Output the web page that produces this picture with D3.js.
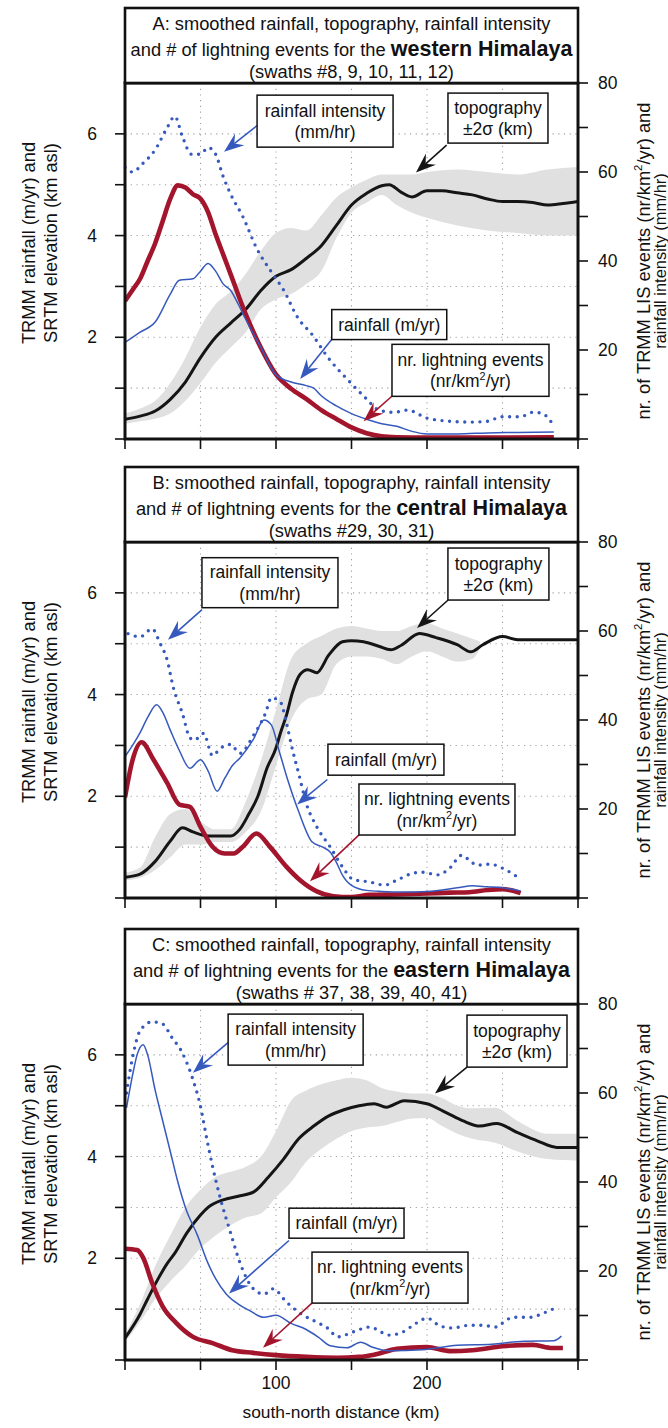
<!DOCTYPE html>
<html><head><meta charset="utf-8">
<script src="https://cdn.jsdelivr.net/npm/d3@7"></script>
<style>
body{margin:0;background:#fff}
svg{display:block}
text{font-family:"Liberation Sans",Arial,Helvetica,sans-serif;fill:#111}
</style>
</head><body><svg id="c" width="668" height="1428"></svg>
<script>
// ---------------- data ----------------
const panelLetters = ["A", "B", "C"];
const regionNames = ["western Himalaya", "central Himalaya", "eastern Himalaya"];
const swathLabels = ["(swaths #8, 9, 10, 11, 12)", "(swaths #29, 30, 31)", "(swaths # 37, 38, 39, 40, 41)"];

const leftTicks = [0, 1, 2, 3, 4, 5, 6];
const leftTickLabels = [2, 4, 6];
const rightTicks = [0, 10, 20, 30, 40, 50, 60, 70, 80];
const rightTickLabels = [20, 40, 60, 80];
const xTicks = [0, 50, 100, 150, 200, 250, 300];
const xTickLabels = [100, 200];
const gridX = [50, 100, 150, 200, 250];
const gridY = [1, 2, 3, 4, 5, 6];

// [distance km, elevation km]
const A_topo = [[0,0.39],[10,0.45],[20,0.55],[30,0.78],[40,1.12],[50,1.6],[60,2.0],[70,2.28],[80,2.55],[90,2.92],[100,3.2],[110,3.33],[120,3.55],[130,3.8],[140,4.2],[150,4.6],[160,4.83],[170,4.98],[175,5.0],[183,4.85],[190,4.76],[200,4.88],[210,4.88],[220,4.84],[230,4.8],[240,4.72],[250,4.67],[260,4.67],[270,4.65],[280,4.6],[290,4.63],[300,4.67]];
// [distance, low, high] (±2 sigma)
const A_band = [[0,0.3,0.5],[10,0.35,0.6],[20,0.4,0.75],[30,0.5,1.1],[40,0.75,1.6],[50,1.1,2.2],[60,1.5,2.65],[70,1.8,2.9],[80,2.1,3.25],[90,2.55,3.7],[100,2.75,4.05],[110,2.85,4.15],[120,3.05,4.1],[130,3.3,4.4],[140,3.95,4.75],[150,4.45,4.95],[160,4.65,5.1],[170,4.8,5.2],[180,4.6,5.2],[190,4.45,5.2],[200,4.35,5.25],[220,4.2,5.3],[240,4.1,5.25],[260,4.05,5.2],[280,4.0,5.3],[300,4.0,5.35]];
// rainfall m/yr
const A_rain = [[0,1.9],[10,2.1],[20,2.3],[30,2.85],[36,3.12],[45,3.15],[50,3.3],[55,3.45],[60,3.3],[65,3.05],[70,2.92],[75,2.65],[80,2.35],[90,1.8],[100,1.26],[110,1.12],[120,1.05],[125,1.0],[130,0.85],[140,0.65],[150,0.5],[160,0.39],[170,0.3],[180,0.25],[190,0.15],[200,0.1],[220,0.1],[240,0.12],[260,0.13],[284,0.14]];
// rainfall intensity mm/hr (right axis)
const A_intensity = [[0,61],[5,60],[12,62],[20,65],[28,70],[33,72.5],[38,68],[44,64],[50,64],[55,65.5],[60,64],[65,59],[70,55],[78,50],[87,43],[98,37],[105,33.5],[114,27.5],[125,23],[134,18.5],[147,13.5],[160,9],[168,6.5],[178,6],[187,6.5],[200,4.7],[215,4],[230,3.8],[240,4],[250,5],[262,5],[270,6],[276,5.8],[283,3.5]];
// lightning events nr/km2/yr (right axis)
const A_lightning = [[0,31],[5,33.5],[10,36],[15,40],[20,44],[25,49],[30,54],[35,57],[40,56.5],[45,55],[50,54],[55,51],[60,46],[65,41.5],[70,37],[80,28],[90,20.5],[100,14.5],[110,11.3],[120,9],[130,6.5],[140,4.5],[150,2.6],[160,1.3],[170,0.6],[180,0.4],[200,0.3],[240,0.3],[284,0.4]];

const B_topo = [[0,0.41],[10,0.47],[20,0.72],[30,1.12],[38,1.38],[45,1.3],[55,1.22],[70,1.22],[76,1.35],[82,1.65],[88,2.0],[94,2.55],[100,2.95],[103,3.25],[107,3.6],[111,4.05],[116,4.4],[121,4.49],[127,4.43],[135,4.78],[144,5.04],[150,5.06],[158,5.04],[168,4.95],[176,4.88],[183,4.97],[195,5.2],[206,5.12],[220,4.98],[229,4.84],[237,4.98],[250,5.14],[260,5.08],[300,5.08]];
const B_band = [[0,0.35,0.5],[10,0.4,0.6],[20,0.55,1.2],[30,0.8,1.65],[40,1.05,1.75],[50,1.05,1.5],[60,1.1,1.35],[70,1.1,1.35],[80,1.3,1.9],[90,1.7,2.7],[100,2.6,3.7],[110,3.5,4.7],[120,3.9,5.0],[130,4.0,5.15],[140,4.6,5.3],[150,4.75,5.35],[160,4.75,5.3],[170,4.7,5.25],[180,4.6,5.25],[190,4.75,5.35],[200,4.85,5.4],[210,4.75,5.3],[220,4.65,5.2],[230,4.7,5.1],[235,4.9,5.05]];
const B_rain = [[0,2.78],[5,3.0],[10,3.25],[15,3.55],[21,3.8],[25,3.65],[30,3.3],[36,2.9],[43,2.55],[50,2.72],[55,2.5],[61,2.1],[66,2.35],[71,2.6],[76,2.75],[85,3.12],[92,3.5],[97,3.4],[102,2.9],[108,2.3],[115,1.7],[124,1.1],[131,1.0],[136,0.9],[140,0.7],[144,0.45],[150,0.25],[160,0.15],[170,0.13],[185,0.12],[200,0.13],[220,0.2],[230,0.24],[240,0.22],[250,0.2],[262,0.14]];
const B_intensity = [[2,59.4],[10,58.7],[18,60.5],[23,57.4],[28,53.4],[32,47.3],[38,41.5],[43,36],[46,35.5],[52,37],[58,32],[63,33.6],[70,34.5],[76,32.5],[85,36.5],[93,41.5],[97,45],[103,44],[107,39.2],[111,33.2],[115,28],[120,21.3],[127,16],[136,11.4],[144,7],[151,4.2],[162,3.6],[172,2.9],[180,4],[191,5.6],[197,5.8],[207,5.2],[215,6.7],[223,9.6],[228,8.5],[233,7.4],[242,7.6],[250,6.7],[260,4.7]];
const B_lightning = [[0,22.6],[5,31],[11,35],[19,31],[28,25.8],[36,21],[43,20.5],[50,16],[58,11.5],[66,10],[72,10],[78,11.5],[87,14.5],[96,11.5],[107,7],[116,4],[127,1.5],[138,0.4],[150,0.2],[162,0.7],[180,0.8],[200,1.0],[215,1.2],[228,1.3],[240,1.8],[250,2.0],[262,1.1]];

const C_topo = [[0,0.43],[10,0.9],[15,1.2],[22,1.6],[28,1.9],[33,2.1],[41,2.5],[50,2.85],[55,3.0],[65,3.15],[75,3.22],[85,3.3],[95,3.6],[105,3.95],[115,4.35],[125,4.6],[135,4.8],[145,4.92],[155,5.0],[165,5.04],[173,4.97],[185,5.1],[200,5.04],[213,4.86],[224,4.7],[235,4.6],[246,4.65],[260,4.47],[273,4.31],[286,4.18],[300,4.18]];
const C_band = [[0,0.35,0.5],[10,0.75,1.1],[20,1.2,1.85],[30,1.55,2.45],[40,1.85,3.0],[50,2.2,3.35],[60,2.45,3.6],[70,2.65,3.7],[80,2.8,3.8],[90,2.88,4.0],[100,3.2,4.5],[110,3.5,5.1],[120,3.9,5.3],[130,4.15,5.42],[140,4.35,5.5],[150,4.5,5.55],[160,4.57,5.5],[170,4.6,5.35],[180,4.68,5.28],[190,4.75,5.24],[200,4.76,5.24],[210,4.6,5.15],[220,4.45,5.0],[230,4.35,4.95],[245,4.27,4.96],[260,4.1,4.7],[280,3.95,4.45],[300,3.92,4.45]];
const C_rain = [[1,4.96],[5,5.6],[8,6.0],[12,6.2],[15,6.0],[20,5.3],[25,4.7],[30,4.1],[35,3.5],[40,3.0],[48,2.45],[55,1.9],[60,1.6],[67,1.3],[75,1.1],[82,0.98],[92,0.84],[100,0.88],[110,0.72],[120,0.6],[128,0.45],[136,0.28],[147,0.24],[156,0.35],[164,0.25],[175,0.18],[197,0.2],[220,0.29],[243,0.31],[264,0.37],[284,0.38],[289,0.47]];
const C_intensity = [[1,60],[5,68],[10,74],[18,76],[25,75.5],[31,72.5],[38,69],[45,63],[50,57],[54,50],[58,43.5],[63,36.5],[70,28.5],[76,22],[85,16],[92,14.8],[98,16],[107,13],[116,10.5],[127,8.5],[134,7.2],[141,5.2],[151,6.3],[162,7.4],[175,5.6],[184,6.3],[193,8.3],[200,9.4],[209,7.6],[217,7.2],[228,7.8],[237,7.8],[246,7.4],[250,8.3],[257,9.6],[268,9.6],[279,10.8],[285,11.7]];
const C_lightning = [[0,25],[8,24.7],[12,23],[18,17.3],[25,12],[34,8.3],[45,5.2],[58,3.8],[71,2.2],[85,1.6],[100,1.1],[120,0.7],[140,0.5],[155,0.7],[165,1.2],[180,2.5],[200,2.9],[215,2],[230,2.2],[250,3.1],[270,3.4],[283,2.7],[290,2.7]];

// annotation labels
const labelIntensity = ["rainfall intensity", "(mm/hr)"];
const labelTopo = ["topography", "\u00b12\u03c3 (km)"];
const labelRain = ["rainfall (m/yr)"];
const labelLightning = ["nr. lightning events", "(nr/km\u00b2/yr)"];

// ---------------- layout / style ----------------
const COL = {red: "#a3152c", blue: "#3659bd", black: "#151515", band: "#e0e0e0", grid: "#a0a0a0"};
const L = 125, R = 578;
const panelTop = [8, 467, 929];
const titleH = 75, plotH = 356;
const FS = {title: 18.3, titleBold: 21.5, axisTitle: 18.3, tick: 17.5, note: 17.5};

// annotation boxes: centre and arrow ends in data units (km, left-axis km)
const notes = [
  [
    {t: labelIntensity, c: [132.5, 6.25], w: 136, h: 52, from: [87.4, 6.16], to: [65.6, 5.65], col: COL.blue},
    {t: labelTopo, c: [247, 6.31], w: 100, h: 50, from: [213, 5.78], to: [192.7, 5.24], col: COL.black},
    {t: labelRain, c: [175, 2.25], w: 115, h: 30, from: [137, 1.96], to: [116, 1.18], col: COL.blue},
    {t: labelLightning, c: [228.8, 1.35], w: 157, h: 52, from: [177.5, 0.86], to: [158, 0.35], col: COL.red}
  ],
  [
    {t: labelIntensity, c: [96, 6.2], w: 136, h: 50, from: [51, 5.67], to: [28.5, 5.08], col: COL.blue},
    {t: labelTopo, c: [247.3, 6.37], w: 101, h: 52, from: [214, 5.86], to: [193.4, 5.31], col: COL.black},
    {t: labelRain, c: [172.8, 2.72], w: 116, h: 31, from: [134, 2.33], to: [114, 1.84], col: COL.blue},
    {t: labelLightning, c: [206.6, 1.74], w: 156, h: 51, from: [155, 1.24], to: [122.5, 0.33], col: COL.red}
  ],
  [
    {t: labelIntensity, c: [113, 6.3], w: 135, h: 51, from: [68.2, 6.24], to: [45, 5.65], col: COL.blue},
    {t: labelTopo, c: [259.6, 6.27], w: 100, h: 52, from: [226.5, 5.76], to: [205.3, 5.24], col: COL.black},
    {t: labelRain, c: [146.7, 2.69], w: 115, h: 30, from: [108.6, 2.35], to: [68.9, 1.31], col: COL.blue},
    {t: labelLightning, c: [175.5, 1.62], w: 156, h: 51, from: [123.8, 1.12], to: [91.4, 0.24], col: COL.red}
  ]
];

const panels = [
  {topo: A_topo, band: A_band, rain: A_rain, intensity: A_intensity, lightning: A_lightning},
  {topo: B_topo, band: B_band, rain: B_rain, intensity: B_intensity, lightning: B_lightning},
  {topo: C_topo, band: C_band, rain: C_rain, intensity: C_intensity, lightning: C_lightning}
];

const svg = d3.select("#c");
const defs = svg.append("defs");

function addText(g, str, x, y, size, anchor) {
  const t = g.append("text").attr("x", x).attr("y", y).attr("font-size", size).attr("text-anchor", anchor || "middle");
  if (str.indexOf("\u00b2") >= 0) {
    const parts = str.split("\u00b2");
    t.append("tspan").text(parts[0]);
    t.append("tspan").attr("font-size", size * 0.62).attr("dy", -size * 0.42).text("2");
    t.append("tspan").attr("dy", size * 0.42).text(parts[1]);
  } else t.text(str);
  return t;
}

function arrow(g, x0, y0, x1, y1, color) {
  const dx = x1 - x0, dy = y1 - y0, len = Math.hypot(dx, dy), ux = dx / len, uy = dy / len;
  const headL = 20, notch = 13, hw = 7.5;
  g.append("line").attr("x1", x0).attr("y1", y0).attr("x2", x1 - ux * notch).attr("y2", y1 - uy * notch)
    .attr("stroke", color).attr("stroke-width", 1.6);
  const ang = Math.atan2(dy, dx) * 180 / Math.PI;
  g.append("path").attr("d", `M0,0L${-headL},${-hw}L${-notch},0L${-headL},${hw}Z`)
    .attr("transform", `translate(${x1},${y1}) rotate(${ang})`).attr("fill", color);
}

panels.forEach((P, i) => {
  const top = panelTop[i], pt = top + titleH, pb = pt + plotH;
  const x = d3.scaleLinear().domain([0, 300]).range([L, R]);
  const yL = d3.scaleLinear().domain([0, 7]).range([pb, pt]);
  const yR = d3.scaleLinear().domain([0, 80]).range([pb, pt]);
  const g = svg.append("g");

  defs.append("clipPath").attr("id", "clip" + i).append("rect")
    .attr("x", L).attr("y", pt).attr("width", R - L).attr("height", plotH);
  const plot = g.append("g").attr("clip-path", `url(#clip${i})`);

  // grid
  plot.selectAll(".gx").data(gridX).enter().append("line")
    .attr("x1", d => x(d)).attr("x2", d => x(d)).attr("y1", pt).attr("y2", pb)
    .attr("stroke", COL.grid).attr("stroke-width", 1.1).attr("stroke-dasharray", "1.2,4.5");
  plot.selectAll(".gy").data(gridY).enter().append("line")
    .attr("x1", L).attr("x2", R).attr("y1", d => yL(d)).attr("y2", d => yL(d))
    .attr("stroke", COL.grid).attr("stroke-width", 1.1).attr("stroke-dasharray", "1.2,4.5");

  // band
  plot.append("path").datum(P.band)
    .attr("d", d3.area().x(d => x(d[0])).y0(d => yL(d[1])).y1(d => yL(d[2])).curve(d3.curveMonotoneX))
    .attr("fill", COL.band);

  const lineL = d3.line().x(d => x(d[0])).y(d => yL(d[1])).curve(d3.curveMonotoneX);
  const lineR = d3.line().x(d => x(d[0])).y(d => yR(d[1])).curve(d3.curveMonotoneX);

  plot.append("path").datum(P.topo).attr("d", lineL).attr("fill", "none")
    .attr("stroke", COL.black).attr("stroke-width", 3).attr("stroke-linejoin", "round");
  plot.append("path").datum(P.lightning).attr("d", lineR).attr("fill", "none")
    .attr("stroke", COL.red).attr("stroke-width", 4.6).attr("stroke-linejoin", "round");
  plot.append("path").datum(P.rain).attr("d", lineL).attr("fill", "none")
    .attr("stroke", COL.blue).attr("stroke-width", 1.5);
  plot.append("path").datum(P.intensity).attr("d", lineR).attr("fill", "none")
    .attr("stroke", COL.blue).attr("stroke-width", 3.4).attr("stroke-linecap", "round")
    .attr("stroke-dasharray", "0,7.6");

  // frame
  g.append("rect").attr("x", L).attr("y", pt).attr("width", R - L).attr("height", plotH)
    .attr("fill", "none").attr("stroke", "#111").attr("stroke-width", 3);

  // title box
  g.append("rect").attr("x", L).attr("y", top).attr("width", R - L).attr("height", titleH)
    .attr("fill", "#fff").attr("stroke", "#111").attr("stroke-width", 2.6);
  const cx = (L + R) / 2;
  addText(g, `${panelLetters[i]}: smoothed rainfall, topography, rainfall intensity`, cx, top + 21.5, FS.title);
  const t2 = g.append("text").attr("x", cx).attr("y", top + 47.5).attr("text-anchor", "middle").attr("font-size", FS.title);
  t2.append("tspan").text("and # of lightning events for the ");
  t2.append("tspan").attr("font-weight", "bold").attr("font-size", FS.titleBold).text(regionNames[i]);
  addText(g, swathLabels[i], cx, top + 69.5, FS.title);

  // left ticks
  g.selectAll(".lt").data(leftTicks).enter().append("line")
    .attr("x1", L - 10).attr("x2", L).attr("y1", d => yL(d)).attr("y2", d => yL(d))
    .attr("stroke", "#111").attr("stroke-width", 1.6);
  leftTickLabels.forEach(v => addText(g, String(v), 97, yL(v) + 6, FS.tick, "end"));
  // right ticks
  g.selectAll(".rt").data(rightTicks).enter().append("line")
    .attr("x1", R).attr("x2", R + 10).attr("y1", d => yR(d)).attr("y2", d => yR(d))
    .attr("stroke", "#111").attr("stroke-width", 1.6);
  rightTickLabels.forEach(v => addText(g, String(v), 598, yR(v) + 6, FS.tick, "start"));
  // bottom ticks
  g.selectAll(".bt").data(xTicks).enter().append("line")
    .attr("x1", d => x(d)).attr("x2", d => x(d)).attr("y1", pb).attr("y2", pb + 10)
    .attr("stroke", "#111").attr("stroke-width", 1.6);
  if (i === 2) {
    xTickLabels.forEach(v => addText(g, String(v), x(v), pb + 29, FS.tick));
    addText(g, "south-north distance (km)", 341, pb + 58, FS.axisTitle * 0.95);
  }

  // axis titles
  const midY = (pt + pb) / 2;
  const lg1 = g.append("g").attr("transform", `translate(28,${midY - 18}) rotate(-90)`);
  addText(lg1, "TRMM rainfall (m/yr) and", 0, 6.5, FS.axisTitle);
  const lg2 = g.append("g").attr("transform", `translate(50,${midY - 18}) rotate(-90)`);
  addText(lg2, "SRTM elevation (km asl)", 0, 6.5, FS.axisTitle);
  const rg1 = g.append("g").attr("transform", `translate(643,${midY}) rotate(-90)`);
  addText(rg1, "nr. of TRMM LIS events (nr/km\u00b2/yr) and", 0, 6.5, FS.axisTitle);
  const rg2 = g.append("g").attr("transform", `translate(660,${midY}) rotate(-90)`);
  addText(rg2, "rainfall intensity (mm/hr)", 0, 5.5, FS.axisTitle * 0.9);

  // annotations
  notes[i].forEach(n => {
    const bx = x(n.c[0]), by = yL(n.c[1]);
    arrow(g, x(n.from[0]), yL(n.from[1]), x(n.to[0]), yL(n.to[1]), n.col);
    g.append("rect").attr("x", bx - n.w / 2).attr("y", by - n.h / 2).attr("width", n.w).attr("height", n.h)
      .attr("fill", "#fff").attr("stroke", "#111").attr("stroke-width", 1.5);
    if (n.t.length === 1) addText(g, n.t[0], bx, by + 6, FS.note);
    else {
      addText(g, n.t[0], bx, by - 4.5, FS.note);
      addText(g, n.t[1], bx, by + 17, FS.note);
    }
  });
});
</script></body></html>
